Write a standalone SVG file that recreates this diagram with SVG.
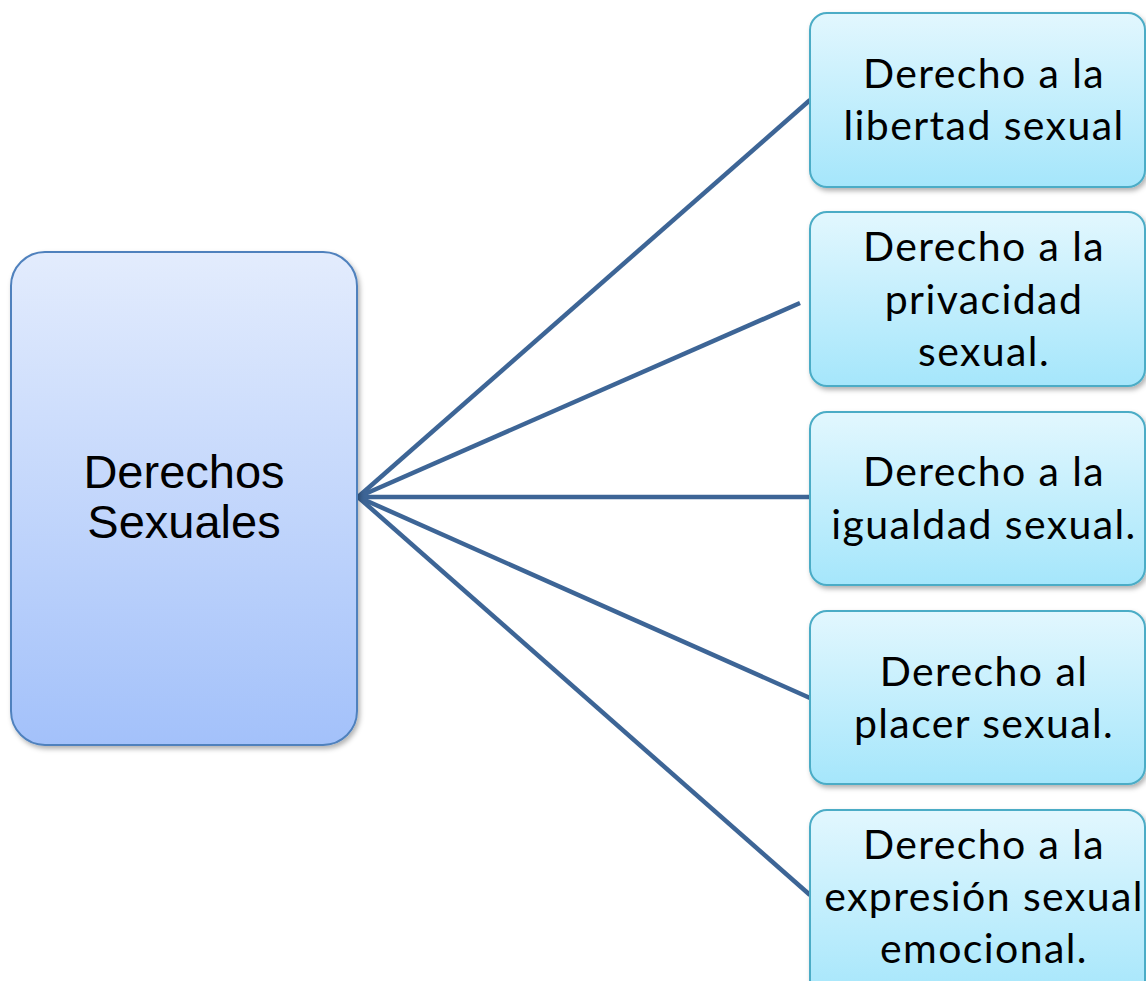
<svg xmlns="http://www.w3.org/2000/svg" width="1146" height="981" viewBox="0 0 1146 981">
  <defs>
    <linearGradient id="gMain" x1="0" y1="0" x2="0" y2="1">
      <stop offset="0" stop-color="#e3ecfd"/>
      <stop offset="1" stop-color="#a3c1fa"/>
    </linearGradient>
    <linearGradient id="gLeaf" x1="0" y1="0" x2="0" y2="1">
      <stop offset="0" stop-color="#e2f7fe"/>
      <stop offset="1" stop-color="#a5e6fb"/>
    </linearGradient>
    <filter id="shadow" x="-10%" y="-10%" width="125%" height="125%">
      <feDropShadow dx="2" dy="3" stdDeviation="2.5" flood-color="#000" flood-opacity="0.3"/>
    </filter>
  </defs>
  <style>
    .main { fill: url(#gMain); stroke: #4f81bd; stroke-width: 2; filter: url(#shadow); }
    .leaf { fill: url(#gLeaf); stroke: #4bacc6; stroke-width: 2; filter: url(#shadow); }
    .mainText { font-family: "Liberation Sans", Arial, sans-serif; font-size: 47px; fill: #000; text-anchor: middle; }
    .leafText { font-family: Lato, "Noto Sans", sans-serif; font-size: 41px; letter-spacing: 1.4px; fill: #000; text-anchor: middle; }
    .conn { stroke: #3d6596; stroke-width: 4.5; fill: none; stroke-linecap: butt; }
  </style>

  <rect width="1146" height="981" fill="#ffffff"/>

  <g id="connectors">
    <line class="conn" x1="358" y1="497" x2="810" y2="100"/>
    <line class="conn" x1="358" y1="497" x2="800" y2="303"/>
    <line class="conn" x1="358" y1="497" x2="810" y2="497"/>
    <line class="conn" x1="358" y1="497" x2="810" y2="698"/>
    <line class="conn" x1="358" y1="497" x2="810" y2="895"/>
  </g>

  <g id="derechos-sexuales">
    <rect class="main" x="11" y="252" width="346" height="493" rx="34"/>
    <text class="mainText" x="184" y="488">Derechos</text>
    <text class="mainText" x="184" y="538">Sexuales</text>
  </g>

  <g id="libertad">
    <rect class="leaf" x="810" y="13" width="335" height="174" rx="17"/>
    <text class="leafText" x="984" y="88">Derecho a la</text>
    <text class="leafText" x="984" y="140">libertad sexual</text>
  </g>

  <g id="privacidad">
    <rect class="leaf" x="810" y="212" width="335" height="174" rx="17"/>
    <text class="leafText" x="984" y="261">Derecho a la</text>
    <text class="leafText" x="984" y="314">privacidad</text>
    <text class="leafText" x="984" y="366">sexual.</text>
  </g>

  <g id="igualdad">
    <rect class="leaf" x="810" y="412" width="335" height="173" rx="17"/>
    <text class="leafText" x="984" y="486">Derecho a la</text>
    <text class="leafText" x="984" y="539">igualdad sexual.</text>
  </g>

  <g id="placer">
    <rect class="leaf" x="810" y="611" width="335" height="173" rx="17"/>
    <text class="leafText" x="984" y="686">Derecho al</text>
    <text class="leafText" x="984" y="738">placer sexual.</text>
  </g>

  <g id="expresion">
    <rect class="leaf" x="810" y="810" width="335" height="190" rx="17"/>
    <text class="leafText" x="984" y="859">Derecho a la</text>
    <text class="leafText" x="984" y="911">expresión sexual</text>
    <text class="leafText" x="984" y="963">emocional.</text>
  </g>
</svg>
